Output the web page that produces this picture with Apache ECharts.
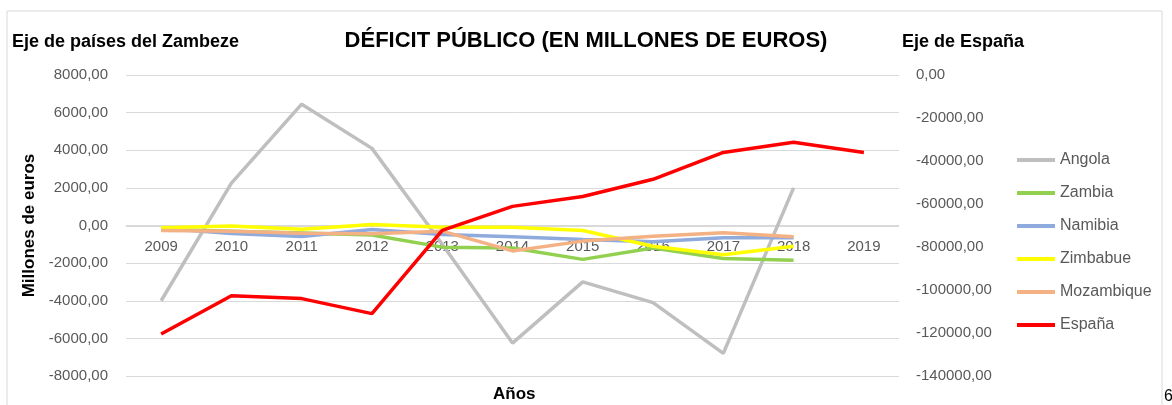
<!DOCTYPE html>
<html>
<head>
<meta charset="utf-8">
<script src="https://cdn.jsdelivr.net/npm/echarts@6/dist/echarts.min.js"></script>
<style>
  html, body { margin: 0; padding: 0; background: #fff; }
  #chart { width: 1172px; height: 405px; }
</style>
</head>
<body>
<div id="chart"></div>
<script>
// datos
const years = ['2009', '2010', '2011', '2012', '2013', '2014', '2015', '2016', '2017', '2018', '2019'];
const angola = [-4000, 2250, 6450, 4100, -1000, -6250, -3000, -4100, -6800, 2000, null];
const zambia = [-200, -300, -400, -500, -1150, -1200, -1800, -1200, -1750, -1850, null];
const namibia = [-150, -430, -590, -210, -480, -600, -740, -870, -650, -650, null];
const zimbabue = [-120, -30, -200, 50, -90, -90, -270, -1100, -1550, -1100, null];
const mozambique = [-270, -300, -410, -440, -300, -1350, -830, -570, -390, -600, null];
const espana = [-120500, -102700, -104000, -111000, -72300, -61100, -56500, -48500, -36000, -31300, -36000];

const fmt = v => v.toFixed(2).replace('.', ',');
const gris = '#595959';

function serie(name, data, color, axis) {
  return {
    name: name,
    type: 'line',
    data: data,
    yAxisIndex: axis,
    symbol: 'none',
    lineStyle: { color: color, width: 3.5 },
    itemStyle: { color: color }
  };
}

const chart = echarts.init(document.getElementById('chart'));
chart.setOption({
  backgroundColor: '#fff',
  animation: false,
  textStyle: { fontFamily: 'Liberation Sans' },
  title: [
    { text: 'DÉFICIT PÚBLICO (EN MILLONES DE EUROS)', left: 'center', top: 25,
      textStyle: { fontSize: 22, fontWeight: 'bold', color: '#000' } },
    { text: 'Eje de países del Zambeze', left: 7, top: 28,
      textStyle: { fontSize: 18, fontWeight: 'bold', color: '#000' } },
    { text: 'Eje de España', left: 897, top: 28,
      textStyle: { fontSize: 18, fontWeight: 'bold', color: '#000' } },
    { text: 'Años', left: 488, top: 381,
      textStyle: { fontSize: 17, fontWeight: 'bold', color: '#000' } }
  ],
  graphic: [
    { type: 'rect', shape: { x: 7, y: 11, width: 1155, height: 420 },
      style: { fill: 'none', stroke: '#d9d9d9', lineWidth: 1 }, silent: true },
    { type: 'text', left: 1164, top: 389, style: { text: '6', fontSize: 16, fill: '#000' } }
  ],
  legend: {
    orient: 'vertical',
    left: 1012,
    top: 147,
    itemWidth: 38,
    itemHeight: 4,
    itemGap: 17,
    icon: 'rect',
    textStyle: { fontSize: 16, color: gris, lineHeight: 16 },
    data: ['Angola', 'Zambia', 'Namibia', 'Zimbabue', 'Mozambique', 'España']
  },
  grid: { left: 126, right: 273, top: 75, bottom: 29 },
  xAxis: {
    type: 'category',
    data: years,
    boundaryGap: true,
    position: 'bottom',
    offset: -150,
    axisLine: { onZero: false, lineStyle: { color: '#d9d9d9' } },
    axisTick: { show: false },
    axisLabel: { fontSize: 15, color: gris, margin: 13 }
  },
  yAxis: [
    {
      type: 'value',
      min: -8000, max: 8000, interval: 2000,
      name: 'Millones de euros',
      nameLocation: 'middle',
      nameRotate: 90,
      nameGap: 80,
      nameTextStyle: { fontSize: 17, fontWeight: 'bold', color: '#000' },
      axisLine: { show: false },
      axisTick: { show: false },
      axisLabel: { fontSize: 15, color: gris, margin: 18, formatter: fmt },
      splitLine: { lineStyle: { color: '#d9d9d9', width: 1 } }
    },
    {
      type: 'value',
      min: -140000, max: 0, interval: 20000,
      position: 'right',
      axisLine: { show: false },
      axisTick: { show: false },
      axisLabel: { fontSize: 15, color: gris, margin: 17, formatter: fmt },
      splitLine: { show: false }
    }
  ],
  series: [
    serie('Angola', angola, '#bfbfbf', 0),
    serie('Zambia', zambia, '#92d050', 0),
    serie('Namibia', namibia, '#8faadc', 0),
    serie('Zimbabue', zimbabue, '#ffff00', 0),
    serie('Mozambique', mozambique, '#f4b183', 0),
    serie('España', espana, '#ff0000', 1)
  ]
});
</script>
</body>
</html>
